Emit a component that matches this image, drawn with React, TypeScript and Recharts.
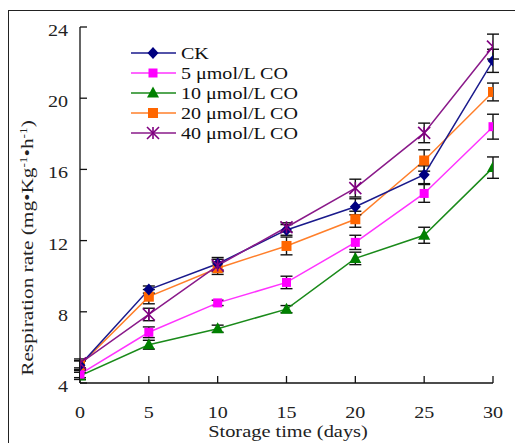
import React from "react";
import { LineChart, Line, XAxis, YAxis, ErrorBar } from "recharts";

const days = [0, 5, 10, 15, 20, 25, 30];
const ck = [5.0, 9.25, 10.7, 12.6, 13.9, 15.7, 22.1];
const co5 = [4.5, 6.85, 8.5, 9.65, 11.9, 14.65, 18.4];
const co10 = [4.4, 6.15, 7.05, 8.15, 11.0, 12.3, 16.1];
const co20 = [5.0, 8.85, 10.45, 11.7, 13.2, 16.5, 20.35];
const co40 = [5.1, 7.85, 10.6, 12.75, 14.95, 18.05, 22.9];

const ckErr = [0.25, 0.2, 0.35, 0.3, 0.45, 0.5, 0.65];
const co5Err = [0.2, 0.3, 0.15, 0.35, 0.4, 0.5, 0.7];
const co10Err = [0.2, 0.25, 0.2, 0.2, 0.35, 0.45, 0.6];
const co20Err = [0.25, 0.4, 0.35, 0.5, 0.45, 0.6, 0.5];
const co40Err = [0.25, 0.35, 0.35, 0.25, 0.5, 0.55, 0.7];

const xTicks = [0, 5, 10, 15, 20, 25, 30];
const yTicks = [4, 8, 12, 16, 20, 24];

const seriesNames = ["CK", "5 \u03bcmol/L CO", "10 \u03bcmol/L CO", "20 \u03bcmol/L CO", "40 \u03bcmol/L CO"];

const data = days.map((d, i) => ({
  day: d,
  ck: ck[i],
  ckErr: ckErr[i],
  co5: co5[i],
  co5Err: co5Err[i],
  co10: co10[i],
  co10Err: co10Err[i],
  co20: co20[i],
  co20Err: co20Err[i],
  co40: co40[i],
  co40Err: co40Err[i],
}));

const FONT = "Liberation Serif, Times New Roman, serif";
const SX = 1.18;

const COLORS = {
  ck: "#000080",
  co5: "#ff00ff",
  co10: "#008000",
  co20: "#ff6600",
  co40: "#800080",
};
const LINE_COLORS = {
  ck: "#1a1a8c",
  co5: "#ff33ff",
  co10: "#1a8a1a",
  co20: "#ff7f2a",
  co40: "#8a1a8a",
};

type MK = "diamond" | "square" | "triangle" | "square2" | "star";

function Marker({ cx, cy, kind, color }: { cx: number; cy: number; kind: MK; color: string }) {
  if (cx == null || cy == null) return null;
  if (kind === "diamond") {
    return <polygon points={`${cx},${cy - 6} ${cx + 5.5},${cy} ${cx},${cy + 6} ${cx - 5.5},${cy}`} fill={color} />;
  }
  if (kind === "square") {
    return <rect x={cx - 4.5} y={cy - 4.5} width={9} height={9} fill={color} />;
  }
  if (kind === "square2") {
    return <rect x={cx - 5} y={cy - 5} width={10} height={10} fill={color} />;
  }
  if (kind === "triangle") {
    return <polygon points={`${cx},${cy - 6.5} ${cx + 6},${cy + 4.5} ${cx - 6},${cy + 4.5}`} fill={color} />;
  }
  return (
    <g stroke={color} strokeWidth={1.6}>
      <line x1={cx - 6} y1={cy - 6} x2={cx + 6} y2={cy + 6} />
      <line x1={cx - 6} y1={cy + 6} x2={cx + 6} y2={cy - 6} />
      <line x1={cx} y1={cy - 6} x2={cx} y2={cy + 6} />
    </g>
  );
}

const makeDot = (kind: MK, color: string) => (props: any) => (
  <Marker key={`${kind}-${props.index}`} cx={props.cx} cy={props.cy} kind={kind} color={color} />
);

const YTick = (props: any) => {
  const { x, y, payload } = props;
  return (
    <g transform={`translate(${x},${y + 3}) scale(${SX},1)`}>
      <text x={0} y={0} dy="0.35em" textAnchor="end" fontFamily={FONT} fontSize={17} fill="#222">
        {payload.value}
      </text>
    </g>
  );
};

const XTick = (props: any) => {
  const { x, y, payload } = props;
  return (
    <g transform={`translate(${x},${y}) scale(${SX},1)`}>
      <text x={0} y={0} textAnchor="middle" fontFamily={FONT} fontSize={17} fill="#222">
        {payload.value}
      </text>
    </g>
  );
};

const XLabel = () => (
  <g transform={`translate(280,427) scale(1.2,1)`}>
    <text x={0} y={0} textAnchor="middle" fontFamily={FONT} fontSize={17} fill="#222">
      Storage time (days)
    </text>
  </g>
);

const YLabel = () => (
  <g transform={`translate(25,238) rotate(-90) scale(1.33,1)`}>
    <text x={0} y={0} textAnchor="middle" fontFamily={FONT} fontSize={16} fill="#222">
      Respiration rate (mg•Kg
      <tspan dy={-6} fontSize={10}>-1</tspan>
      <tspan dy={6}>•h</tspan>
      <tspan dy={-6} fontSize={10}>-1</tspan>
      <tspan dy={6}>)</tspan>
    </text>
  </g>
);

const legendItems: { name: string; kind: MK; key: keyof typeof COLORS }[] = [
  { name: seriesNames[0], kind: "diamond", key: "ck" },
  { name: seriesNames[1], kind: "square", key: "co5" },
  { name: seriesNames[2], kind: "triangle", key: "co10" },
  { name: seriesNames[3], kind: "square2", key: "co20" },
  { name: seriesNames[4], kind: "star", key: "co40" },
];

const LegendBox = () => (
  <svg width={220} height={120} style={{ display: "block", position: "absolute", left: 123, top: 33 }}>
    {legendItems.map((it, i) => {
      const cy = 10 + i * 20;
      return (
        <g key={it.key}>
          <line x1={0} y1={cy} x2={45} y2={cy} stroke={LINE_COLORS[it.key]} strokeWidth={1.5} />
          <Marker cx={22} cy={cy} kind={it.kind} color={COLORS[it.key]} />
          <g transform={`translate(50,${cy + 6}) scale(${SX},1)`}>
            <text x={0} y={0} fontFamily={FONT} fontSize={17} fill="#111">
              {it.name}
            </text>
          </g>
        </g>
      );
    })}
  </svg>
);

export default function App() {
  return (
    <div style={{ position: "relative", width: 515, height: 433, marginTop: 2 }}>
      <LineChart width={515} height={433} data={data} margin={{ top: 17, right: 30, left: 0, bottom: 0 }}>
        <XAxis
          dataKey="day"
          type="number"
          domain={[0, 30]}
          ticks={xTicks}
          allowDataOverflow
          height={60}
          tickSize={-7}
          tickMargin={42}
          tick={<XTick />}
          stroke="#111"
          strokeWidth={1.3}
          label={<XLabel />}
        />
        <YAxis
          type="number"
          domain={[4, 24]}
          ticks={yTicks}
          allowDataOverflow
          width={72}
          tickSize={-7}
          tickMargin={19}
          tick={<YTick />}
          stroke="#111"
          strokeWidth={1.3}
          label={<YLabel />}
        />
        <Line dataKey="co10" stroke={LINE_COLORS.co10} strokeWidth={1.5} isAnimationActive={false} dot={makeDot("triangle", COLORS.co10)}>
          <ErrorBar dataKey="co10Err" direction="y" width={6} stroke="#111" strokeWidth={1.4} />
        </Line>
        <Line dataKey="co5" stroke={LINE_COLORS.co5} strokeWidth={1.5} isAnimationActive={false} dot={makeDot("square", COLORS.co5)}>
          <ErrorBar dataKey="co5Err" direction="y" width={6} stroke="#111" strokeWidth={1.4} />
        </Line>
        <Line dataKey="co20" stroke={LINE_COLORS.co20} strokeWidth={1.5} isAnimationActive={false} dot={makeDot("square2", COLORS.co20)}>
          <ErrorBar dataKey="co20Err" direction="y" width={6} stroke="#111" strokeWidth={1.4} />
        </Line>
        <Line dataKey="ck" stroke={LINE_COLORS.ck} strokeWidth={1.5} isAnimationActive={false} dot={makeDot("diamond", COLORS.ck)}>
          <ErrorBar dataKey="ckErr" direction="y" width={6} stroke="#111" strokeWidth={1.4} />
        </Line>
        <Line dataKey="co40" stroke={LINE_COLORS.co40} strokeWidth={1.5} isAnimationActive={false} dot={makeDot("star", COLORS.co40)}>
          <ErrorBar dataKey="co40Err" direction="y" width={6} stroke="#111" strokeWidth={1.4} />
        </Line>
      </LineChart>
      <LegendBox />
      <div
        style={{
          position: "absolute",
          left: 0,
          top: 0,
          width: 515,
          height: 433,
          borderTop: "1.5px solid #222",
          borderLeft: "1.5px solid #222",
          boxSizing: "border-box",
          pointerEvents: "none",
        }}
      />
    </div>
  );
}
